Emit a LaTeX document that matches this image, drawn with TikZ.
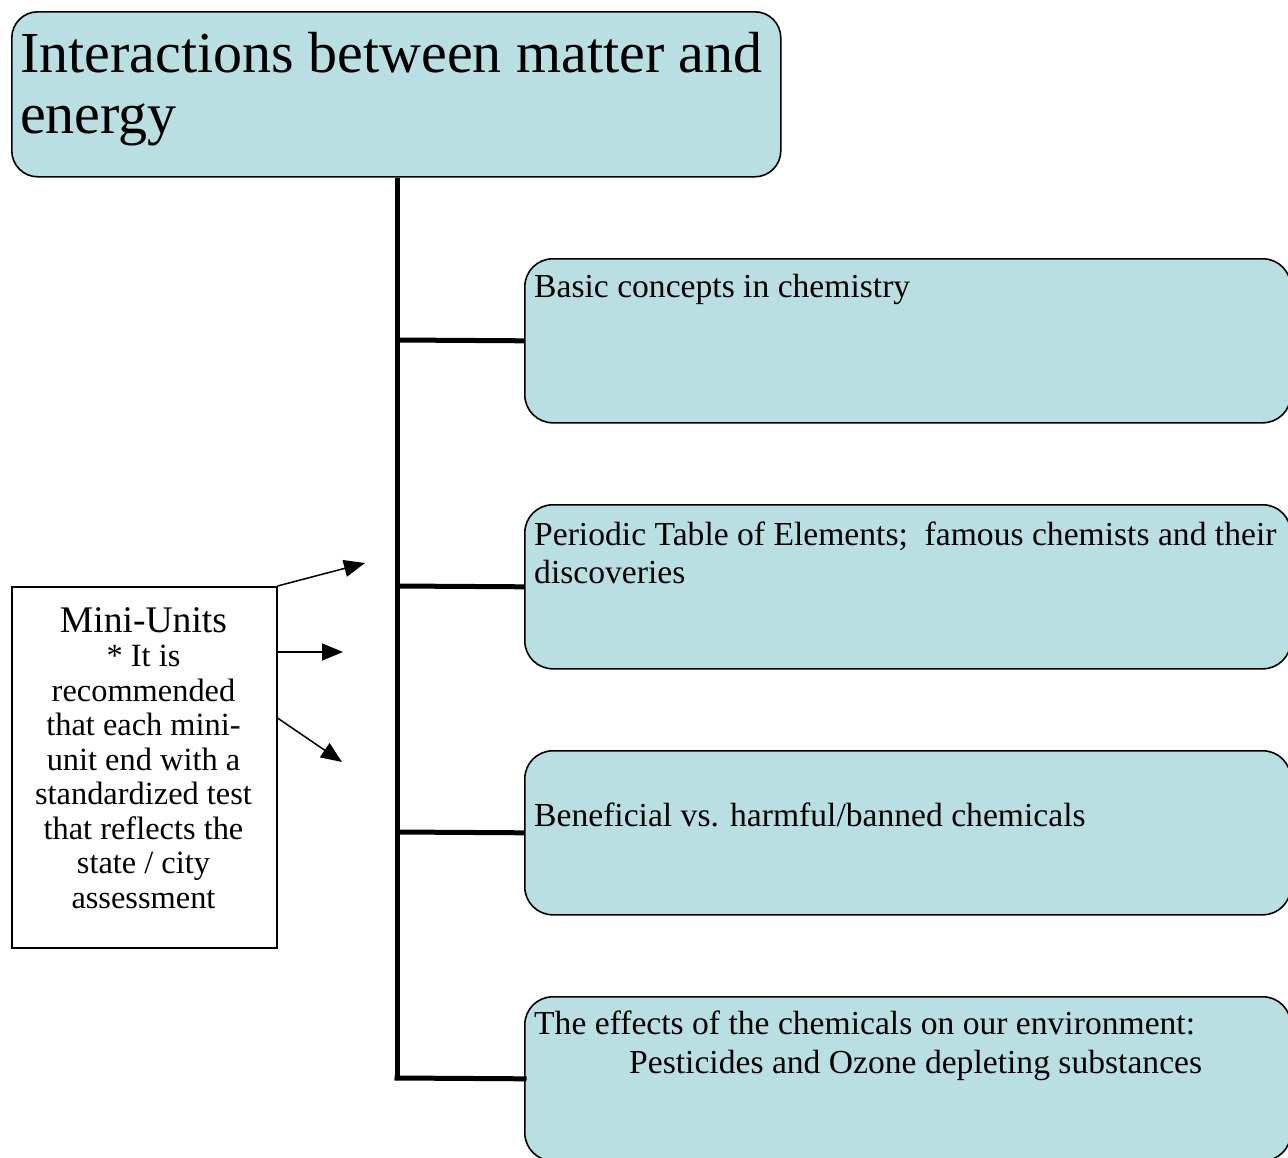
\documentclass[tikz,border=0pt]{standalone}
\usepackage{fontspec}
\setmainfont{Liberation Serif}
\usetikzlibrary{arrows.meta}
\definecolor{boxfill}{HTML}{B9DFE3}
\begin{document}
\begin{tikzpicture}[x=1pt,y=-1pt,
  topic/.style={draw=black,line width=1.6pt,fill=boxfill,rounded corners=28pt,inner sep=0pt},
  trunk/.style={line width=5pt},
  pointer/.style={line width=1.5pt,-{Triangle[length=21pt,width=17pt]}},
  boxtext/.style={inner sep=0pt,anchor=base west,align=left,font=\fontsize{33.6}{38.5}\selectfont}]
\useasboundingbox (0,0) rectangle (1288,1157);
\fill[white] (0,0) rectangle (1288,1157);
% main box
\node[topic,minimum width=769pt,minimum height=165pt,anchor=north west,rounded corners=26pt] (top) at (11,11) {};
\node[inner sep=0pt,anchor=base west,align=left,font=\fontsize{58}{61}\selectfont] (toptext) at (20,133) {Interactions between matter and\\energy};
% sub boxes
\node[topic,minimum width=766pt,minimum height=164pt,anchor=north west] (b1) at (524,258) {};
\node[topic,minimum width=766pt,minimum height=164pt,anchor=north west] (b2) at (524,504) {};
\node[topic,minimum width=766pt,minimum height=164pt,anchor=north west] (b3) at (524,750) {};
\node[topic,minimum width=766pt,minimum height=164pt,anchor=north west] (b4) at (524,996) {};
\node[boxtext] (t1) at (534,297) {Basic concepts in chemistry};
\node[boxtext] (t2) at (534,583.5) {Periodic Table of Elements;\ \ famous chemists and their\\discoveries};
\node[boxtext] (t3) at (534,826) {Beneficial vs. harmful/banned chemicals};
\node[boxtext] (t4) at (534,1073) {The effects of the chemicals on our environment:\\\hspace*{95pt}Pesticides and Ozone depleting substances};
% trunk and branches
\draw[trunk] (top.south -| 397,0) -- (397,1078) coordinate (tend);
\draw[trunk] (397,340) -- (b1.west);
\draw[trunk] (397,586) -- (b2.west);
\draw[trunk] (397,832) -- (b3.west);
\draw[trunk,line cap=rect] (tend) -- (b4.west);
% mini units box
\node[draw=black,line width=1.5pt,fill=white,minimum width=265pt,minimum height=361pt,anchor=north west,inner sep=0pt] (mini) at (11,586) {};
\node[inner sep=0pt,anchor=base,align=center,font=\fontsize{32.4}{34.5}\selectfont] (minitext) at (143.5,908)
  {{\fontsize{37.6}{34.5}\selectfont Mini-Units}\\* It is\\recommended\\that each mini-\\unit end with a\\standardized test\\that reflects the\\state / city\\assessment};
\coordinate (p1) at (365,563);
\coordinate (p2) at (343,652);
\coordinate (p3) at (342,762);
\draw[pointer] (mini.north east) -- (p1);
\draw[pointer] ([yshift=-66pt]mini.north east) -- (p2);
\draw[pointer] ([yshift=-132pt]mini.north east) -- (p3);
\end{tikzpicture}
\end{document}
